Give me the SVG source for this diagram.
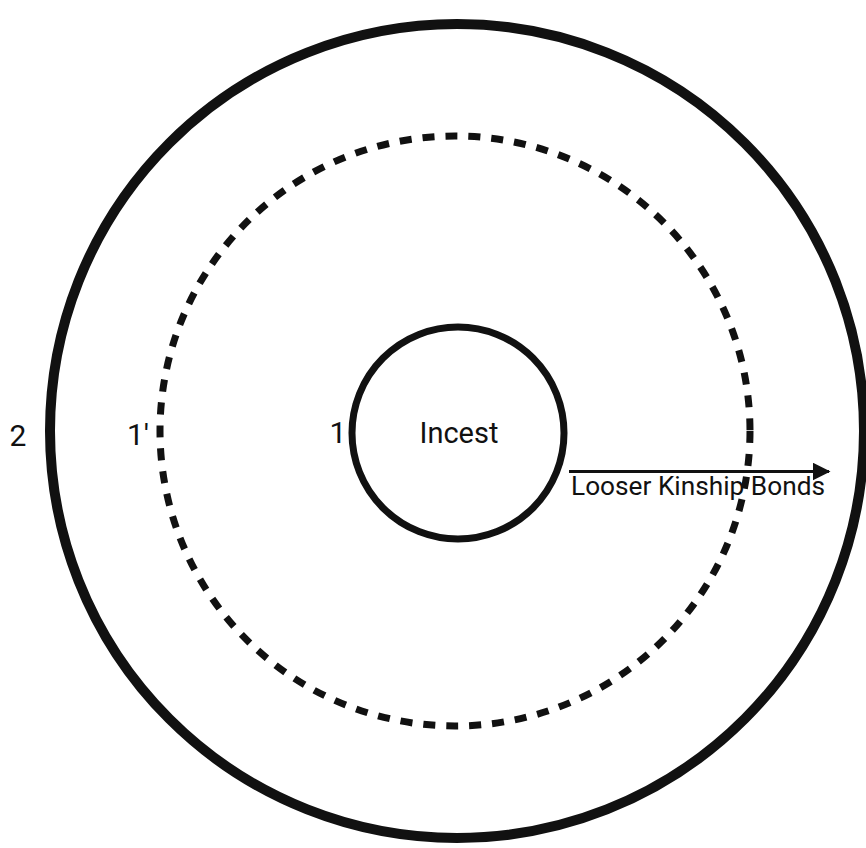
<svg xmlns="http://www.w3.org/2000/svg" width="866" height="848" viewBox="0 0 866 848">
  <defs>
    <style>
      .ring { fill: none; stroke: #111; }
      .lbl { font-family: Roboto, "Liberation Sans", sans-serif; fill: #111; }
    </style>
    <marker id="arrow" markerWidth="6" markerHeight="6" refX="5.5" refY="3" orient="auto" markerUnits="strokeWidth">
      <path d="M0,0 L6,3 L0,6 Z" fill="#111"/>
    </marker>
  </defs>
  <rect width="866" height="848" fill="#fff"/>
  <g id="outer-ring">
    <circle class="ring" cx="457" cy="431" r="407" stroke-width="10"/>
    <text class="lbl" x="18" y="446" font-size="30" text-anchor="middle">2</text>
  </g>
  <g id="middle-ring">
    <circle class="ring" cx="455" cy="431" r="295" stroke-width="7" stroke-dasharray="12 11"/>
    <text class="lbl" x="138" y="445" font-size="30" text-anchor="middle">1'</text>
  </g>
  <g id="incest">
    <circle class="ring" cx="458" cy="433" r="106" stroke-width="7"/>
    <text class="lbl" x="459" y="443" font-size="29" text-anchor="middle">Incest</text>
    <text class="lbl" x="338" y="443" font-size="30" text-anchor="middle">1</text>
  </g>
  <g id="connectors">
    <line x1="569" y1="471.5" x2="829" y2="471.5" stroke="#111" stroke-width="3" marker-end="url(#arrow)"/>
    <text class="lbl" x="571" y="495" font-size="26" textLength="254" lengthAdjust="spacingAndGlyphs">Looser Kinship Bonds</text>
  </g>
</svg>
